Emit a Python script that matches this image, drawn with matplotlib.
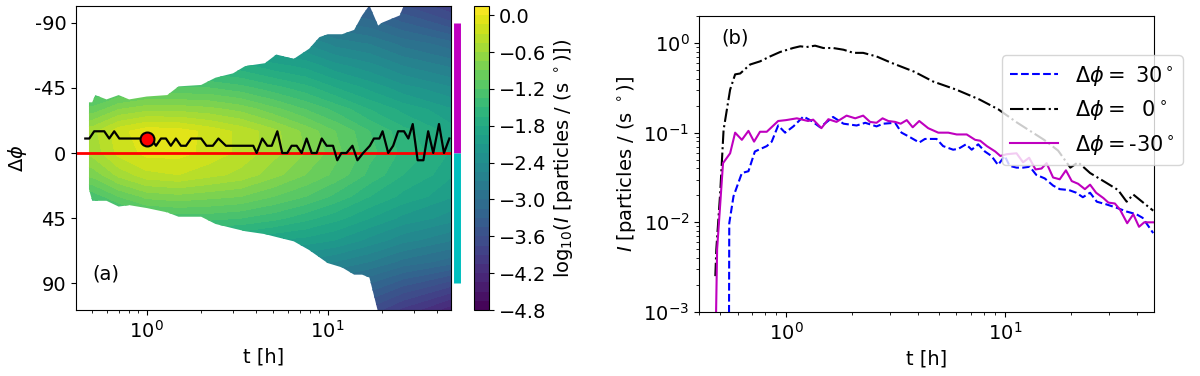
import numpy as np
import matplotlib
matplotlib.use("Agg")
import matplotlib.pyplot as plt
from matplotlib.patches import Polygon
from matplotlib.transforms import blended_transform_factory

plt.rcParams['font.size'] = 14

# ---------------- panel (a): intensity map (log10 I) ----------------
map_t = [0.40, 0.50, 0.70, 1.0, 1.5, 2.2, 3.3, 5.0, 7.5, 11.0, 17.0, 26.0, 50.0]
map_phi = [-110, -90, -75, -60, -45, -30, -15, 0, 15, 30, 45, 60, 75, 90, 110]
# one column per time in map_t, rows follow map_phi
log_I_map = [
    [-3.0, -2.6, -2.2, -1.8, -1.4, -1.0, -0.5, -0.55, -0.85, -1.3, -1.8, -2.3, -2.7, -3.1, -3.5],
    [-3.0, -2.6, -2.2, -1.8, -1.4, -1.0, -0.5, -0.55, -0.85, -1.3, -1.8, -2.3, -2.7, -3.1, -3.5],
    [-3.0, -2.6, -2.2, -1.8, -1.3, -0.75, -0.2, -0.25, -0.55, -1.05, -1.55, -2.1, -2.6, -3.0, -3.4],
    [-3.0, -2.6, -2.2, -1.7, -1.2, -0.65, -0.05, -0.1, -0.35, -0.85, -1.35, -1.9, -2.4, -2.8, -3.2],
    [-3.0, -2.6, -2.1, -1.7, -1.2, -0.65, -0.08, -0.1, -0.3, -0.8, -1.3, -1.85, -2.3, -2.75, -3.2],
    [-3.0, -2.6, -2.1, -1.7, -1.2, -0.7, -0.2, -0.2, -0.4, -0.85, -1.3, -1.85, -2.3, -2.75, -3.2],
    [-3.1, -2.6, -2.2, -1.75, -1.3, -0.8, -0.35, -0.35, -0.5, -0.9, -1.35, -1.85, -2.3, -2.8, -3.25],
    [-3.2, -2.7, -2.3, -1.9, -1.45, -1.0, -0.55, -0.55, -0.7, -1.05, -1.45, -1.95, -2.4, -2.85, -3.3],
    [-3.3, -2.8, -2.4, -2.0, -1.6, -1.2, -0.8, -0.75, -0.9, -1.2, -1.6, -2.0, -2.45, -2.9, -3.4],
    [-3.4, -3.0, -2.6, -2.2, -1.8, -1.4, -1.05, -1.0, -1.1, -1.4, -1.75, -2.1, -2.55, -3.0, -3.5],
    [-3.6, -3.1, -2.7, -2.35, -2.0, -1.65, -1.35, -1.3, -1.4, -1.65, -1.95, -2.3, -2.7, -3.15, -3.7],
    [-3.8, -3.3, -2.9, -2.55, -2.2, -1.85, -1.6, -1.55, -1.65, -1.85, -2.15, -2.5, -2.9, -3.4, -4.0],
    [-4.1, -3.6, -3.1, -2.75, -2.4, -2.1, -1.9, -1.85, -1.95, -2.1, -2.35, -2.7, -3.1, -3.7, -4.4],
]

# envelope of the populated region (outside is white)
env_t = [0.48, 0.50, 0.52, 0.60, 0.70, 0.80, 1.0, 1.3, 1.5, 2.0, 2.4, 3.0, 3.5, 4.5,
         5.2, 6.5, 7.9, 9.0, 10.0, 12.0, 14.0, 15.5, 17.0, 19.0, 20.0, 25.0, 28.0, 35.0, 60.0]
env_top = [-35, -35, -40, -37, -40, -37, -39, -40, -46, -47, -52, -55, -60, -62,
           -68, -65, -72, -80, -82, -82, -85, -95, -102, -88, -90, -95, -110, -110, -110]
env_bot = [25, 33, 33, 33, 37, 36, 38, 41, 44, 44, 49, 52, 54, 56,
           58, 61, 67, 72, 76, 79, 84, 84, 86, 110, 110, 110, 110, 110, 110]

# direction of maximum intensity
peak_t = [0.458, 0.482, 0.513, 0.583, 0.621, 0.662, 0.706, 1.056, 1.126, 1.20, 1.278, 1.36,
          1.45, 1.546, 1.65, 1.76, 2.0, 2.14, 2.32, 2.49, 2.74, 3.88, 4.05, 4.35, 4.64, 4.91,
          5.27, 5.61, 5.98, 6.32, 6.74, 7.18, 7.65, 8.16, 8.69, 9.27, 9.87, 10.7, 11.3, 11.9,
          12.7, 13.7, 14.6, 15.7, 17.1, 18.0, 19.3, 20.1, 21.6, 23.0, 24.5, 26.4, 27.9, 29.5,
          31.4, 33.8, 35.9, 38.3, 41.2, 43.9, 47.0]
peak_phi = [-10, -10, -15, -15, -10, -15, -10, -10, -5, -10, -10, -5,
            -10, -5, -5, -10, -10, -5, -5, -10, -5, -5, 0, -10, -5, -5,
            -15, 0, 0, -5, -5, 0, -10, 0, 0, -10, -5, -5, 5, 0,
            0, -5, 5, 0, -5, -10, -10, -15, 0, -5, -15, -15, -10, -20,
            5, 5, -15, 0, -20, 0, -10]
marker_t, marker_phi = 1.0, -10

cbar_ticks = [-4.8, -4.2, -3.6, -3.0, -2.4, -1.8, -1.2, -0.6, 0.0]

# ---------------- panel (b): time profiles ----------------
t_p30 = [0.548, 0.55, 0.575, 0.628, 0.673, 0.72, 0.816, 0.86, 0.92, 0.99, 1.08, 1.20, 1.31,
         1.43, 1.64, 1.83, 2.10, 2.30, 2.59, 2.78, 3.15, 3.37, 3.68, 4.06, 4.31, 4.87, 5.22,
         5.80, 6.13, 6.64, 7.05, 7.55, 8.10, 8.68, 9.30, 9.99, 10.5, 11.3, 12.1, 13.0, 13.9,
         15.2, 16.6, 17.8, 19.6, 21.2, 22.7, 24.5, 26.3, 29.1, 32.6, 36.0, 39.9, 42.6, 47.6]
logI_p30 = [-3.5, -2.01, -1.71, -1.45, -1.43, -1.21, -1.15, -1.10, -0.92, -1.00, -0.93, -0.82,
            -0.87, -0.94, -0.825, -0.90, -0.92, -0.89, -0.93, -0.90, -0.89, -1.00, -1.05, -1.11,
            -1.07, -1.07, -1.15, -1.19, -1.18, -1.13, -1.19, -1.13, -1.21, -1.26, -1.36, -1.26,
            -1.37, -1.39, -1.39, -1.38, -1.47, -1.51, -1.59, -1.63, -1.64, -1.67, -1.72, -1.67,
            -1.77, -1.80, -1.84, -1.88, -1.91, -1.95, -2.12]

t_0 = [0.475, 0.48, 0.50, 0.518, 0.555, 0.585, 0.617, 0.685, 0.76, 0.845, 0.94, 1.076, 1.16,
       1.24, 1.357, 1.48, 1.64, 1.83, 2.03, 2.25, 2.59, 3.02, 3.85, 4.70, 5.99, 7.65, 9.33,
       11.4, 15.1, 17.5, 19.9, 21.6, 24.5, 29.1, 32.9, 36.0, 38.6, 47.6]
logI_0 = [-2.6, -2.30, -1.67, -0.97, -0.52, -0.35, -0.34, -0.24, -0.205, -0.15, -0.10, -0.056,
          -0.037, -0.045, -0.03, -0.056, -0.056, -0.075, -0.11, -0.11, -0.15, -0.22, -0.32,
          -0.43, -0.52, -0.63, -0.74, -0.89, -1.08, -1.20, -1.39, -1.33, -1.45, -1.56, -1.64,
          -1.77, -1.69, -1.87]

t_m30 = [0.478, 0.484, 0.515, 0.555, 0.585, 0.628, 0.673, 0.714, 0.76, 0.816, 0.92, 1.0, 1.12,
         1.26, 1.33, 1.45, 1.56, 1.70, 1.89, 2.07, 2.25, 2.42, 2.59, 2.76, 2.93, 3.15, 3.34,
         3.56, 3.79, 4.06, 4.46, 4.96, 5.51, 6.02, 6.69, 7.31, 7.71, 8.27, 9.03, 9.53, 10.2,
         11.3, 12.1, 12.9, 13.8, 14.7, 15.5, 16.6, 17.8, 19.0, 20.2, 21.6, 23.2, 24.5, 26.1,
         28.2, 29.7, 31.8, 33.6, 36.2, 38.6, 41.0, 43.3, 47.5]
logI_m30 = [-3.1, -2.3, -1.34, -1.23, -1.00, -1.08, -0.98, -1.10, -0.99, -0.99, -0.87, -0.86,
            -0.84, -0.87, -0.855, -0.95, -0.85, -0.88, -0.81, -0.84, -0.81, -0.88, -0.89, -0.84,
            -0.87, -0.88, -0.90, -0.86, -0.94, -0.87, -0.95, -1.00, -1.00, -1.02, -1.02, -1.08,
            -1.09, -1.15, -1.21, -1.26, -1.24, -1.23, -1.33, -1.28, -1.41, -1.40, -1.34, -1.50,
            -1.52, -1.42, -1.54, -1.57, -1.63, -1.58, -1.67, -1.73, -1.78, -1.79, -1.86, -2.01,
            -1.91, -2.05, -2.00, -2.00]

labels = [r'$\Delta\phi = $ 30$^\circ$', r'$\Delta\phi = $  0$^\circ$', r'$\Delta\phi = $-30$^\circ$']

# ---------------- figure ----------------
W, H = 1200, 376
fig = plt.figure(figsize=(12, 3.76), dpi=100)
ax1 = fig.add_axes([76 / W, 1 - 310 / H, 375 / W, 304 / H])
cax = fig.add_axes([474 / W, 1 - 310 / H, 15 / W, 304 / H])
ax2 = fig.add_axes([699 / W, 1 - 312 / H, 455 / W, 296 / H])

# panel (a)
T, P = np.meshgrid(map_t, map_phi)
Z = np.array(log_I_map).T
levels = np.linspace(-4.8, 0.15, 34)
cs = ax1.contourf(T, P, Z, levels=levels, cmap='viridis')
poly_xy = list(zip(env_t, env_top)) + list(zip(env_t[::-1], env_bot[::-1]))
clip = Polygon(poly_xy, closed=True, transform=ax1.transData, facecolor='none', edgecolor='none')
cs.set_clip_path(clip)

ax1.axhline(0, color='red', lw=2)
ax1.plot(peak_t, peak_phi, color='black', lw=1.6)
ax1.plot([marker_t], [marker_phi], 'o', color='red', mec='black', mew=1.5, ms=10)

ax1.set_xscale('log')
ax1.set_xlim(0.407, 48)
ax1.set_ylim(108.4, -101.5)
ax1.set_yticks([-90, -45, 0, 45, 90])
ax1.set_yticklabels(['-90', '-45', '0', '45', '90'])
ax1.set_xlabel('t [h]')
ax1.set_ylabel(r'$\Delta\phi$')
ax1.text(0.045, 0.12, '(a)', transform=ax1.transAxes, va='center', ha='left')

bt = blended_transform_factory(ax1.transAxes, ax1.transData)
ax1.plot([1.017, 1.017], [-90, 0], color='m', lw=5, transform=bt, clip_on=False,
         solid_capstyle='butt')
ax1.plot([1.017, 1.017], [0, 90], color='c', lw=5, transform=bt, clip_on=False,
         solid_capstyle='butt')

cb = fig.colorbar(cs, cax=cax, ticks=cbar_ticks)
cb.set_label(r'log$_{10}$($I$ [particles / (s $^\circ$)])')

# panel (b)
ax2.plot(t_p30, 10 ** np.array(logI_p30), '--', color='blue', lw=1.5, label=labels[0])
ax2.plot(t_0, 10 ** np.array(logI_0), '-.', color='black', lw=1.5, label=labels[1])
ax2.plot(t_m30, 10 ** np.array(logI_m30), '-', color='m', lw=1.5, label=labels[2])
ax2.set_xscale('log')
ax2.set_yscale('log')
ax2.set_xlim(0.40, 48)
ax2.set_ylim(1e-3, 2.0)
ax2.set_xlabel('t [h]')
ax2.set_ylabel(r'$I$ [particles / (s $^\circ$)]')
ax2.text(0.05, 0.927, '(b)', transform=ax2.transAxes, va='center', ha='left')
ax2.legend(loc='upper right', bbox_to_anchor=(1193 / W, 1 - 45 / H),
           bbox_transform=fig.transFigure, fontsize=15, handlelength=2.3)

fig.savefig('out.png', dpi=100)
